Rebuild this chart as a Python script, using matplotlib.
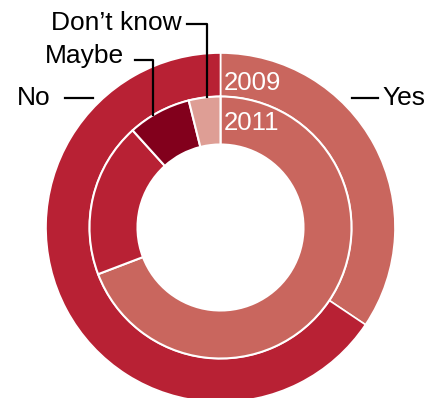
import numpy as np
import matplotlib
matplotlib.use("Agg")
import matplotlib.pyplot as plt

plt.rcParams['font.family'] = ['Liberation Sans', 'DejaVu Sans']

# answer shares, percent
outer_labels = ["Yes", "No"]
outer_values = [34.4, 65.6]          # 2009
inner_labels = ["Yes", "No", "Maybe", "Don't know"]
inner_values = [69.2, 19.1, 7.8, 3.9]  # 2011

col_yes = "#c9665e"
col_no = "#b82134"
col_maybe = "#82001c"
col_dk = "#de9e95"

W, H = 435, 398
fig = plt.figure(figsize=(W / 100, H / 100), dpi=100)
ax = fig.add_axes([0, 0, 1, 1])

# work in pixel units, y pointing up
cx, cy = 220.5, H - 227.5
r_out, r_mid, r_in = 174.5, 131.0, 83.0

ax.pie(outer_values, colors=[col_yes, col_no], radius=r_out, center=(cx, cy),
       startangle=90, counterclock=False,
       wedgeprops=dict(width=r_out - r_mid, edgecolor="white", linewidth=1.2))
ax.pie(inner_values, colors=[col_yes, col_no, col_maybe, col_dk], radius=r_mid,
       center=(cx, cy), startangle=90, counterclock=False,
       wedgeprops=dict(width=r_mid - r_in, edgecolor="white", linewidth=1.5))

ax.set_xlim(0, W)
ax.set_ylim(0, H)
ax.set_aspect("equal")
ax.axis("off")


def ring_top(x):
    # y of the inner ring's outer edge above the centre at a given x
    return cy + np.sqrt(r_mid ** 2 - (x - cx) ** 2)


fs = 19
lw = 1.6

# Don't know
x_dk = 207.5
ax.plot([187, x_dk, x_dk], [H - 23.5, H - 23.5, ring_top(x_dk)], color="black", lw=lw)
ax.text(182, H - 23, "Don\u2019t know", ha="right", va="center", fontsize=fs)

# Maybe
x_mb = 153.5
ax.plot([135, x_mb, x_mb], [H - 60, H - 60, ring_top(x_mb)], color="black", lw=lw)
ax.text(124, H - 56, "Maybe", ha="right", va="center", fontsize=fs)

# No / Yes
ax.plot([65, 93], [H - 98, H - 98], color="black", lw=lw)
ax.text(51, H - 98, "No", ha="right", va="center", fontsize=fs)
ax.plot([352, 378], [H - 98, H - 98], color="black", lw=lw)
ax.text(382, H - 98, "Yes", ha="left", va="center", fontsize=fs)

# year labels inside the rings
ax.text(224, H - 83, "2009", ha="left", va="center", fontsize=18.5, color="white")
ax.text(224, H - 123, "2011", ha="left", va="center", fontsize=18.5, color="white")

fig.savefig("out.png", dpi=100)
